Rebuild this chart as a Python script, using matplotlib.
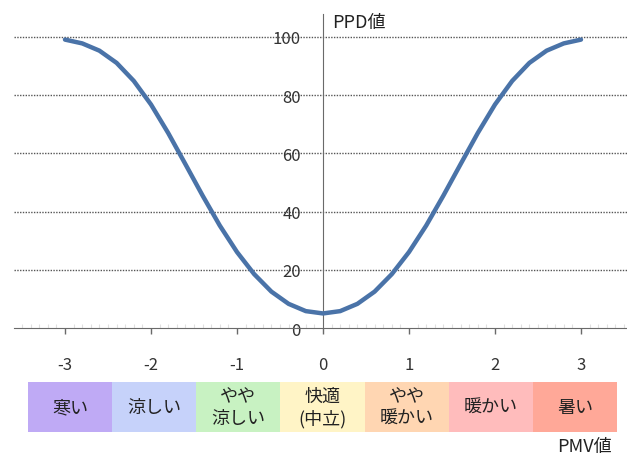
import matplotlib
matplotlib.use("Agg")
import matplotlib.pyplot as plt
from matplotlib.ticker import MultipleLocator

plt.rcParams['font.family'] = ['Noto Sans CJK JP', 'DejaVu Sans']

# PMV vs PPD curve
pmv = [-3.0, -2.8, -2.6, -2.4, -2.2, -2.0, -1.8, -1.6, -1.4, -1.2, -1.0,
       -0.8, -0.6, -0.4, -0.2, 0.0, 0.2, 0.4, 0.6, 0.8, 1.0,
       1.2, 1.4, 1.6, 1.8, 2.0, 2.2, 2.4, 2.6, 2.8, 3.0]
ppd = [99.1, 97.8, 95.3, 91.1, 84.9, 76.8, 67.0, 56.3, 45.5, 35.2, 26.1,
       18.5, 12.5, 8.3, 5.8, 5.0, 5.8, 8.3, 12.5, 18.5, 26.1,
       35.2, 45.5, 56.3, 67.0, 76.8, 84.9, 91.1, 95.3, 97.8, 99.1]

x_ticks = [-3, -2, -1, 0, 1, 2, 3]
y_ticks = [0, 20, 40, 60, 80, 100]

sensations = ['寒い', '涼しい', 'やや\n涼しい', '快適\n(中立)', 'やや\n暖かい', '暖かい', '暑い']
box_colors = ['#bfaaf5', '#c6d2fa', '#c8f2c2', '#fff4c6', '#ffd6b2', '#ffbcbc', '#ffa898']

W, H = 627, 456
fig = plt.figure(figsize=(W / 100, H / 100), dpi=100)

# main chart
ax = fig.add_axes([14 / W, (H - 329) / H, 613 / W, 314 / H])
ax.plot(pmv, ppd, color='#4a73a8', lw=3.2, solid_capstyle='round', zorder=3)
ax.set_xlim(-3.593, 3.535)
ax.set_ylim(0, 107.9)

for s in ['top', 'right']:
    ax.spines[s].set_visible(False)
ax.spines['left'].set_position(('data', 0))
ax.spines['left'].set_color('#6a6a6a')
ax.spines['bottom'].set_color('#6a6a6a')

for v in y_ticks[1:]:
    ax.axhline(v, color='#555555', lw=1.0, ls=(0, (1, 1)), zorder=1)

ax.set_xticks(x_ticks)
ax.set_xticklabels([str(v) for v in x_ticks])
ax.set_yticks(y_ticks)
ax.set_yticklabels([str(v) for v in y_ticks])
ax.xaxis.set_minor_locator(MultipleLocator(0.1))
ax.tick_params(axis='x', which='major', direction='out', length=4, width=1,
               color='#6a6a6a', pad=16, labelsize=12, labelcolor='#333333')
ax.tick_params(axis='x', which='minor', direction='in', length=3, width=0.8,
               color='#e0e0e0')
ax.tick_params(axis='y', length=0, pad=16, labelsize=12, labelcolor='#333333')

fig.text(332 / W, 1 - 23 / H, 'PPD値', fontsize=13, color='#222222',
         ha='left', va='center')

# comfort sensation strip under the axis
bx = fig.add_axes([28 / W, (H - 433) / H, 589 / W, 50 / H])
bx.bar(range(len(sensations)), [1] * len(sensations), width=1, align='edge',
       color=box_colors, edgecolor='none')
for i, lab in enumerate(sensations):
    bx.text(i + 0.5, 0.5, lab, ha='center', va='center', fontsize=13,
            color='#222222', linespacing=1.3)
bx.set_xlim(0, len(sensations))
bx.set_ylim(0, 1)
bx.axis('off')

fig.text(612 / W, 1 - 447 / H, 'PMV値', fontsize=13, color='#222222',
         ha='right', va='center')

fig.savefig('out.png', dpi=100)
